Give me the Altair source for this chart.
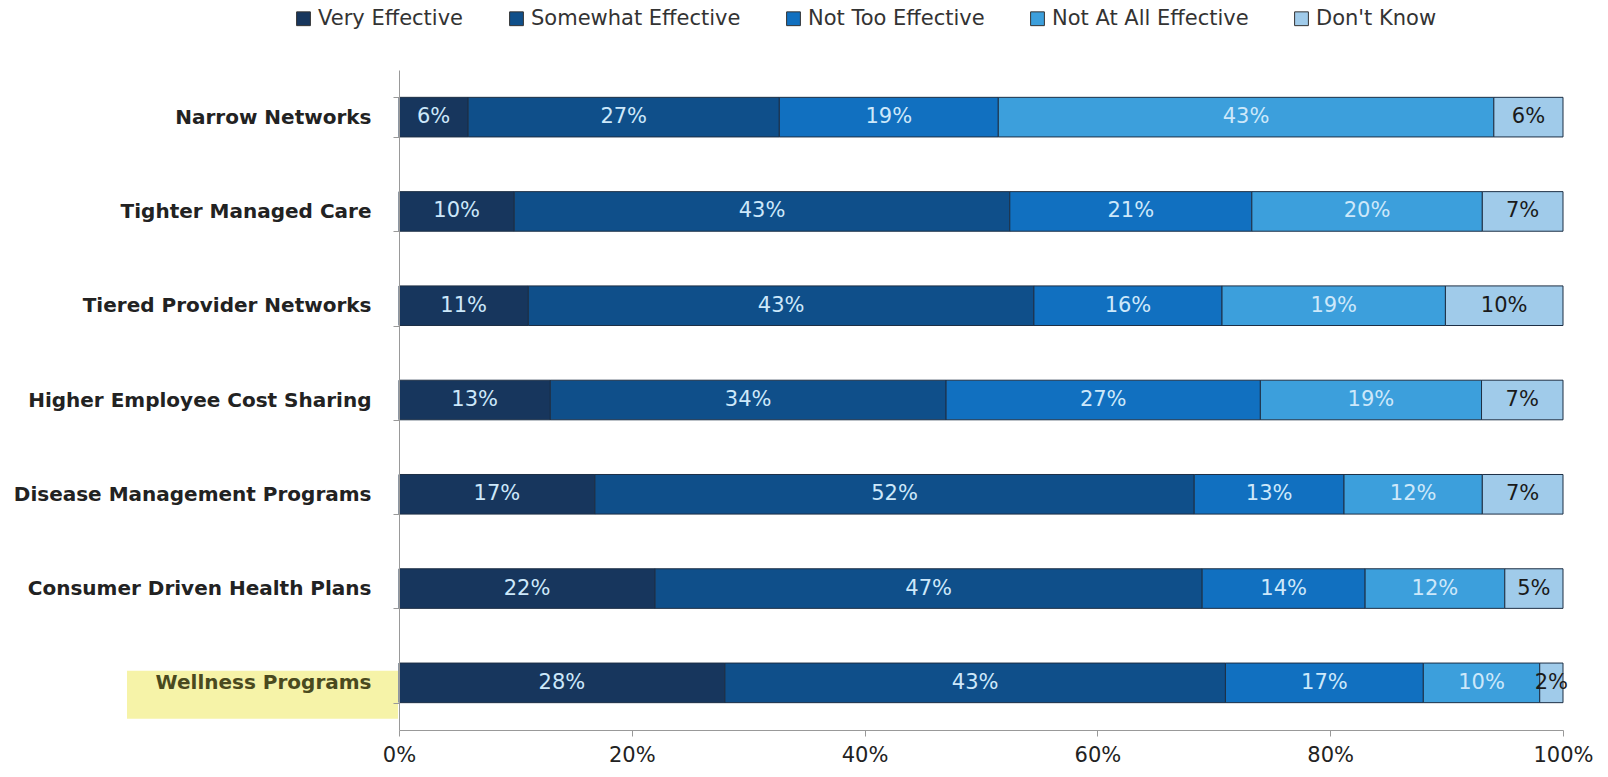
import altair as alt
import pandas as pd

categories = ["Narrow Networks", "Tighter Managed Care", "Tiered Provider Networks",
              "Higher Employee Cost Sharing", "Disease Management Programs",
              "Consumer Driven Health Plans", "Wellness Programs"]
responses = ["Very Effective", "Somewhat Effective", "Not Too Effective",
             "Not At All Effective", "Don't Know"]
very = [6, 10, 11, 13, 17, 22, 28]
somewhat = [27, 43, 43, 34, 52, 47, 43]
not_too = [19, 21, 16, 27, 13, 14, 17]
not_at_all = [43, 20, 19, 19, 12, 12, 10]
dont_know = [6, 7, 10, 7, 7, 5, 2]
colors = ["#17365d", "#0f4f8a", "#1170c0", "#3c9fdc", "#a0cbea"]
highlight = ["Wellness Programs"]

series = [very, somewhat, not_too, not_at_all, dont_know]
rows = []
for ri, (resp, vals) in enumerate(zip(responses, series)):
    for cat, v in zip(categories, vals):
        rows.append({"category": cat, "response": resp, "value": v, "order": ri})
df = pd.DataFrame(rows)
hl = pd.DataFrame({"category": highlight})

FONT = "DejaVu Sans"

yscale = alt.Scale(domain=categories, paddingInner=0.58, paddingOuter=0.29)
yaxis = alt.Axis(tickBand="extent", domainColor="#999", tickColor="#999",
                 tickSize=6, labelFontSize=20, labelFontWeight="bold",
                 labelColor=alt.condition(alt.datum.value == "Wellness Programs",
                                          alt.value("#4a4a1e"), alt.value("#222")),
                 labelFont=FONT, labelPadding=22, labelLimit=420, zindex=1)

hl_layer = alt.Chart(hl).mark_bar(size=48, yOffset=12, color="#f6f3a8").encode(
    y=alt.Y("category:N", sort=categories, scale=yscale, title=None, axis=yaxis),
    x=alt.value(-272), x2=alt.value(-1),
)

base = alt.Chart(df).transform_stack(
    stack="value", as_=["x0", "x1"], groupby=["category"],
    sort=[alt.SortField("order")], offset="normalize"
)

bars = base.mark_bar(stroke="#1d2f45", strokeWidth=1).encode(
    y=alt.Y("category:N", sort=categories, scale=yscale, title=None, axis=yaxis),
    x=alt.X("x0:Q", scale=alt.Scale(domain=[0, 1]), title=None,
            axis=alt.Axis(format="%", values=[0, 0.2, 0.4, 0.6, 0.8, 1.0], grid=False,
                          domainColor="#999", tickColor="#999", tickSize=6,
                          labelFontSize=21, labelColor="#222", labelFont=FONT,
                          labelPadding=8, labelFlush=False)),
    x2="x1:Q",
    color=alt.Color("response:N", sort=responses,
                    scale=alt.Scale(domain=responses, range=colors),
                    legend=alt.Legend(title=None, orient="none", direction="horizontal",
                                      legendX=-106, legendY=-62, symbolType="square",
                                      symbolSize=190, symbolStrokeColor="#333",
                                      symbolStrokeWidth=1, labelFontSize=21,
                                      labelFont=FONT, labelColor="#333",
                                      labelLimit=400, labelOffset=4,
                                      columnPadding=42, symbolOffset=0)),
    order=alt.Order("order:Q"),
)

texts = base.transform_calculate(
    mid="(datum.x0 + datum.x1) / 2", label="datum.value + '%'"
).mark_text(fontSize=21, font=FONT, baseline="middle").encode(
    y=alt.Y("category:N", sort=categories, scale=yscale, title=None, axis=yaxis),
    x=alt.X("mid:Q"),
    text="label:N",
    color=alt.condition(alt.datum.response == "Don't Know",
                        alt.value("#1a1a1a"), alt.value("#cde8fa")),
)

chart = alt.layer(hl_layer, bars, texts).properties(
    width=1164, height=660,
    autosize=alt.AutoSizeParams(type="none"),
    padding={"left": 399, "top": 70, "right": 45, "bottom": 47},
    background="white",
).configure_view(stroke=None)

chart.save("out.html", embed_options={"renderer": "svg", "actions": False})
